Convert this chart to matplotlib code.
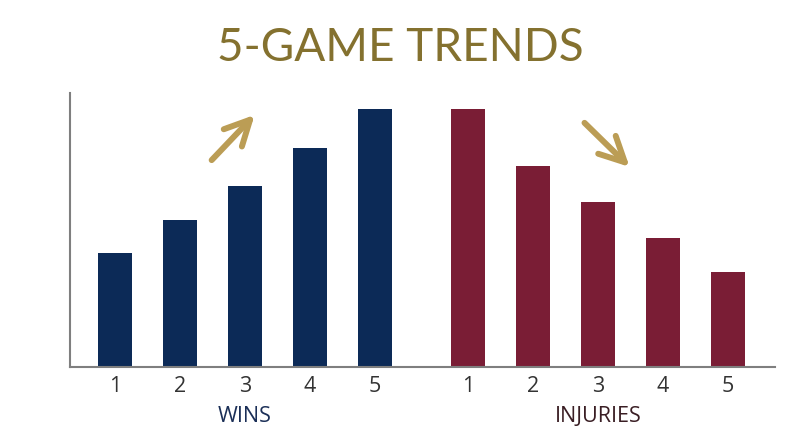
import matplotlib.pyplot as plt
import matplotlib.transforms as mtransforms
import numpy as np

# Data (scaled so the tallest bar = 100)
games = ["1", "2", "3", "4", "5"]
wins = [44, 57, 70, 85, 100]
injuries = [100, 78, 64, 50, 37]

navy = "#0c2a57"
maroon = "#7a1d35"
gold_title = "#84712f"
gold_arrow = "#bb9d55"

fig = plt.figure(figsize=(8, 4.47), dpi=100)
ax = fig.add_axes([0.0875, 0.179, 0.881, 0.613])

x_wins = np.arange(len(games))
x_inj = x_wins + len(games) + 0.43
w = 0.52

ax.bar(x_wins, wins, width=w, color=navy)
ax.bar(x_inj, injuries, width=w, color=maroon)

ax.set_xlim(-0.69, 10.15)
ax.set_ylim(0, 106.2)

ax.set_xticks(list(x_wins) + list(x_inj))
ax.set_xticklabels(games + games, fontsize=15.5, color="#333333", family="Open Sans")
ax.tick_params(axis="x", length=0, pad=6.5)
ax.set_yticks([])

for s in ["top", "right"]:
    ax.spines[s].set_visible(False)
for s in ["left", "bottom"]:
    ax.spines[s].set_color("#7f7f7f")
    ax.spines[s].set_linewidth(1.5)

# group labels under the ticks
trans = mtransforms.blended_transform_factory(ax.transData, ax.transAxes)
ax.text(x_wins.mean(), -0.179, "WINS", transform=trans, ha="center", va="center",
        fontsize=15.5, color="#1b2f57", family="Open Sans")
ax.text(x_inj.mean(), -0.179, "INJURIES", transform=trans, ha="center", va="center",
        fontsize=15.5, color="#3a1e24", family="Open Sans")

# trend arrows
arrow = dict(arrowstyle="->,head_length=0.9,head_width=0.45", color=gold_arrow,
             lw=4.3, capstyle="round", joinstyle="round", shrinkA=0, shrinkB=0,
             mutation_scale=20)
ax.annotate("", xy=(0.262, 0.920), xytext=(0.201, 0.755), xycoords="axes fraction",
            arrowprops=arrow)
ax.annotate("", xy=(0.794, 0.730), xytext=(0.730, 0.891), xycoords="axes fraction",
            arrowprops=arrow)

fig.text(0.5, 0.893, "5-GAME TRENDS", ha="center", va="center", fontsize=33,
         color=gold_title, family="Lato")

fig.savefig("out.png", dpi=100, facecolor="white")
